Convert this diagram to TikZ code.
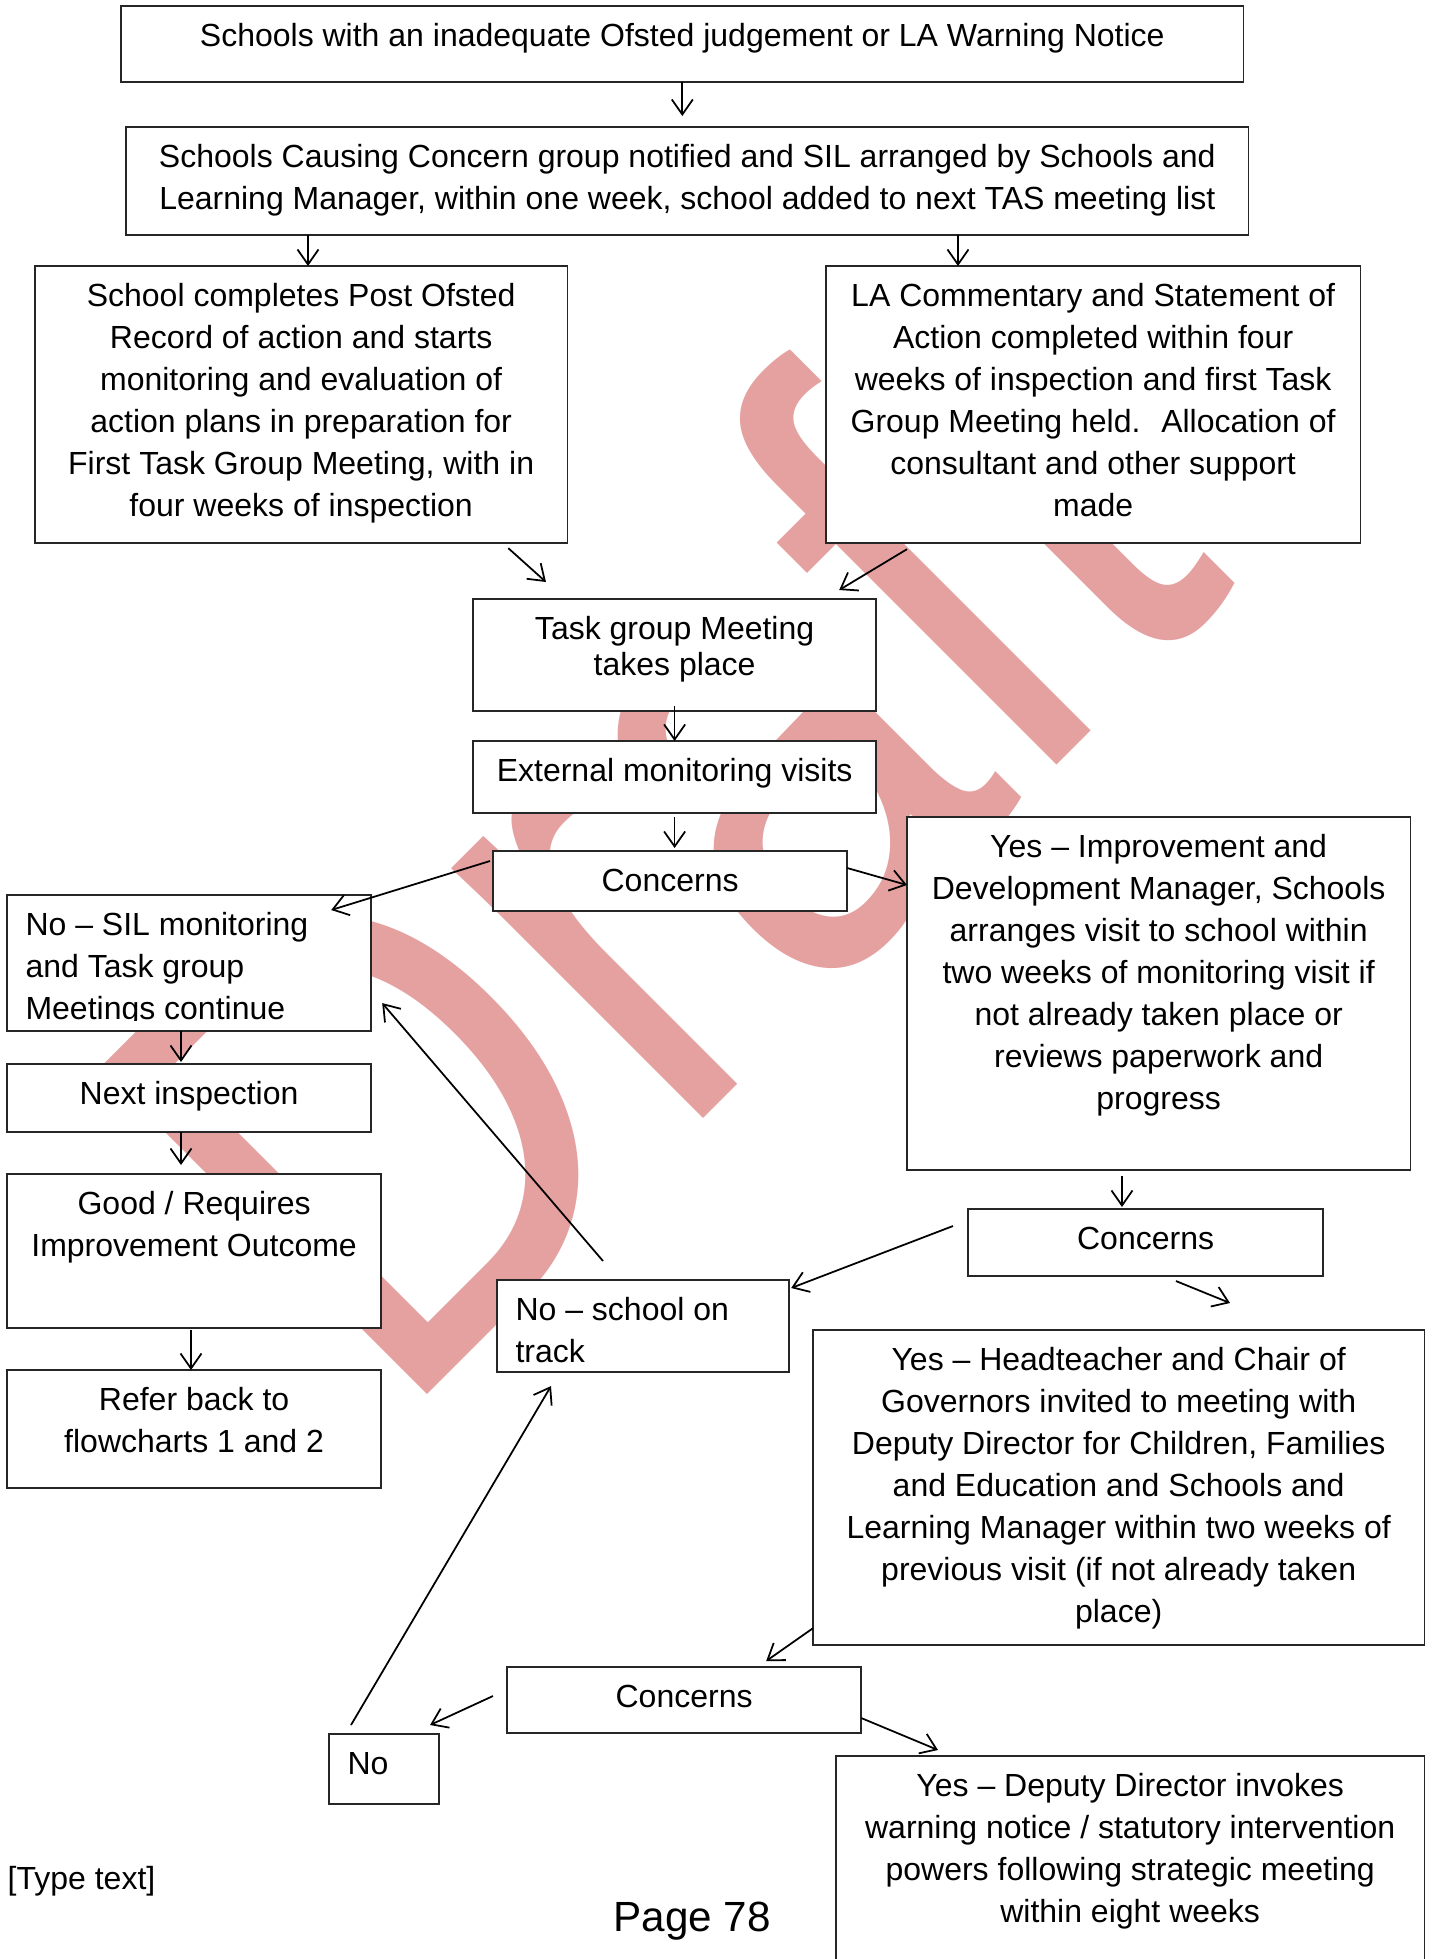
\documentclass[tikz,border=0pt]{standalone}
\usepackage{fontspec}
\setmainfont{Liberation Sans}
\usetikzlibrary{arrows.meta, calc}
\definecolor{ink}{HTML}{000000}
\definecolor{edge}{HTML}{262626}
\definecolor{wmred}{RGB}{229,160,160}
\newcommand{\bodyfont}{\fontsize{9.1}{11.95}\selectfont}
\newcommand{\lefttxt}{\raggedright\leftskip=0.185cm}
\newcommand{\boxtxt}[4][\centering]{\parbox[c][#3][t]{#2}{#1\rule{0pt}{0.40cm}#4}}
\tikzset{
  box/.style={draw=edge, line width=0.45pt, fill=white, text=ink, font=\bodyfont,
    inner sep=0pt, outer sep=0pt, anchor=north west},
  plain/.style={text=ink, font=\bodyfont, inner sep=0pt},
  arr/.style={-{Straight Barb[length=1.5mm, width=2.1mm]}, line width=0.5pt, color=ink},
  wm/.style={text=wmred, font=\fontsize{191}{191}\selectfont, inner sep=0pt},
}

\begin{document}
\begin{tikzpicture}[x=0.01cm, y=-0.01cm]
  \path[use as bounding box, fill=white] (0,0) rectangle (1433,1959);
  % watermark behind the boxes
  \node[wm, rotate=45, xscale=0.82, anchor=base west] (draftmark) at (395,1427) {Draft};

  \node[box] (top) at (121,6) {\boxtxt{11.22cm}{0.76cm}{Schools with an inadequate Ofsted judgement or LA Warning Notice}};
  \node[box] (notify) at (126,127) {\boxtxt{11.22cm}{1.08cm}{Schools Causing Concern group notified and SIL arranged by Schools and\\ Learning Manager, within one week, school added to next TAS meeting list}};
  \node[box] (record) at (35,266) {\boxtxt{5.32cm}{2.77cm}{School completes Post Ofsted\\ Record of action and starts\\ monitoring and evaluation of\\ action plans in preparation for\\ First Task Group Meeting, with in\\ four weeks of inspection}};
  \node[box] (commentary) at (826,266) {\boxtxt{5.34cm}{2.77cm}{LA Commentary and Statement of\\ Action completed within four\\ weeks of inspection and first Task\\ Group Meeting held.~ Allocation of\\ consultant and other support\\ made}};
  \node[box] (taskmtg) at (473,599) {\boxtxt{4.03cm}{1.12cm}{\baselineskip=10.3pt Task group Meeting\\ takes place}};
  \node[box] (extvisits) at (473,741) {\boxtxt{4.03cm}{0.72cm}{External monitoring visits}};
  \node[box] (concerns1) at (493,851) {\boxtxt{3.54cm}{0.60cm}{Concerns}};
  \node[box, minimum width=3.64cm, minimum height=1.36cm,
    path picture={
      \clip (path picture bounding box.north west) rectangle ([yshift=0.11cm]path picture bounding box.south east);
      \node[plain, anchor=north west] at (path picture bounding box.north west)
        {\boxtxt[\lefttxt]{3.64cm}{1.36cm}{No – SIL monitoring\\ and Task group\\ Meetings continue}};
    }] (nosil) at (7,895) {};
  \node[box] (nextinsp) at (7,1064) {\boxtxt{3.64cm}{0.68cm}{Next inspection}};
  \node[box] (outcome) at (7,1174) {\boxtxt{3.74cm}{1.54cm}{Good / Requires\\ Improvement Outcome}};
  \node[box] (referback) at (7,1370) {\boxtxt{3.74cm}{1.18cm}{Refer back to\\ flowcharts 1 and 2}};
  \node[box] (yesidm) at (907,817) {\boxtxt{5.03cm}{3.53cm}{Yes – Improvement and\\ Development Manager, Schools\\ arranges visit to school within\\ two weeks of monitoring visit if\\ not already taken place or\\ reviews paperwork and\\ progress}};
  \node[box] (concerns2) at (968,1209) {\boxtxt{3.55cm}{0.67cm}{Concerns}};
  \node[box] (ontrack) at (497,1280) {\boxtxt[\lefttxt]{2.92cm}{0.92cm}{No – school on\\ track}};
  \node[box] (yeshead) at (813,1330) {\boxtxt{6.11cm}{3.15cm}{Yes – Headteacher and Chair of\\ Governors invited to meeting with\\ Deputy Director for Children, Families\\ and Education and Schools and\\ Learning Manager within two weeks of\\ previous visit (if not already taken\\ place)}};
  \node[box] (concerns3) at (507,1667) {\boxtxt{3.54cm}{0.66cm}{Concerns}};
  \node[box] (nobox) at (329,1734) {\boxtxt[\lefttxt]{1.10cm}{0.70cm}{No}};
  \node[box] (yesdd) at (836,1756) {\boxtxt{5.88cm}{2.80cm}{Yes – Deputy Director invokes\\ warning notice / statutory intervention\\ powers following strategic meeting\\ within eight weeks}};

  \node[plain, anchor=base west] (typetext) at (7,1889) {[Type text]};
  \node[plain, anchor=base, font=\fontsize{12}{14}\selectfont] (pagenum) at (692,1931) {Page 78};

  \draw[arr, shorten >=0.11cm] (top.south) -- (top.south |- notify.north);
  \draw[arr] ($(notify.south west)+(182,0)$) -- ($(record.north west)+(273,0)$);
  \draw[arr] ($(notify.south west)+(832,0)$) -- ($(commentary.north west)+(132,0)$);
  \draw[arr] ($(record.south east)+(-59,5)$) -- ($(taskmtg.north west)+(73,-17)$);
  \draw[arr] ($(commentary.south west)+(81,6)$) -- ($(taskmtg.north east)+(-37,-9)$);
  \draw[arr] ($(taskmtg.south)+(0,-5)$) -- (extvisits.north);
  \draw[arr, shorten >=0.03cm] ($(extvisits.south)+(0,4)$) -- (extvisits.south |- concerns1.north);
  \draw[arr] ($(concerns1.north west)+(-3,10)$) -- ($(nosil.north east)+(-40,15)$);
  \draw[arr] ($(concerns1.north east)+(0,17)$) -- ($(yesidm.north west)+(0,68)$);
  \draw[arr] ($(nosil.south west)+(174,0)$) -- ($(nextinsp.north west)+(174,-2)$);
  \draw[arr] ($(nextinsp.south west)+(174,0)$) -- ($(outcome.north west)+(174,-9)$);
  \draw[arr] ($(outcome.south west)+(184,2)$) -- ($(referback.north west)+(184,0)$);
  \draw[arr] ($(yesidm.south west)+(215,6)$) -- ($(concerns2.north west)+(154,-2)$);
  \draw[arr] ($(concerns2.north west)+(-15,17)$) -- ($(ontrack.north east)+(2,8)$);
  \draw[arr] ($(concerns2.south west)+(208,5)$) -- ($(yeshead.north west)+(417,-27)$);
  \draw[arr] ($(ontrack.north west)+(106,-19)$) -- ($(nosil.south east)+(11,-28)$);
  \draw[arr] ($(yeshead.south west)+(0,-17)$) -- ($(concerns3.north east)+(-95,-6)$);
  \draw[arr] ($(concerns3.north west)+(-14,29)$) -- ($(nobox.north east)+(-9,-9)$);
  \draw[arr] ($(concerns3.north east)+(0,51)$) -- ($(yesdd.north west)+(102,-6)$);
  \draw[arr] ($(nobox.north west)+(22,-9)$) -- ($(ontrack.south west)+(54,14)$);
\end{tikzpicture}
\end{document}
